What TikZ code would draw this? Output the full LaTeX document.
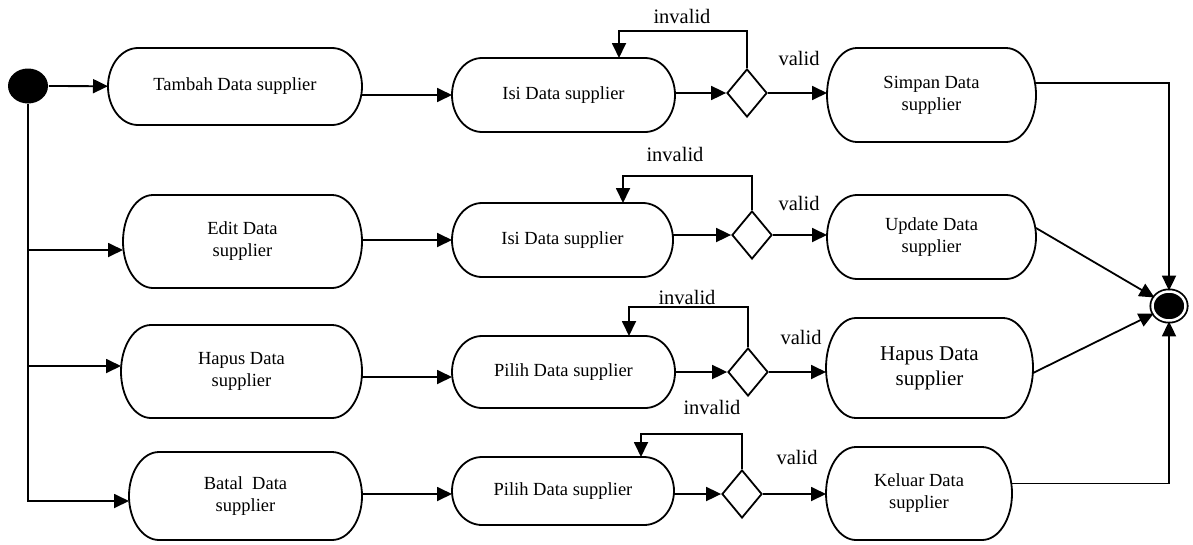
\documentclass[tikz,border=0pt]{standalone}
\usepackage{fontspec}
\setmainfont{Liberation Serif}
\usepackage{tikz}
\usetikzlibrary{calc,shapes.geometric,arrows.meta}

\begin{document}
\begin{tikzpicture}[x=1pt, y=-1pt, line width=1.8pt,
        act/.style={rectangle, align=center, inner sep=0pt, outer sep=0pt,
            font=\fontsize{18.5}{22}\selectfont},
        decision/.style={diamond, draw, minimum width=40pt,
            minimum height=48pt, inner sep=0pt},
        startnode/.style={ellipse, fill=black, minimum width=40pt,
            minimum height=35pt, inner sep=0pt},
        endnode/.style={ellipse, draw, fill=black, double=white,
            double distance=2.5pt, minimum width=33pt, minimum height=29pt,
            inner sep=0pt},
        lbl/.style={inner sep=0pt, font=\fontsize{20.5}{24}\selectfont},
        >={Triangle[length=15pt,width=14pt]}]

        \useasboundingbox (0,0) rectangle (1193,544);

        \node[startnode] (start) at (28,86) {};

        \node[act, minimum width=254pt, minimum height=77pt] (tambah) at (235,86.5) {Tambah Data supplier};
        \node[act, minimum width=239pt, minimum height=93pt] (edit) at (242.5,241.5) {Edit Data\\supplier};
        \node[act, minimum width=241pt, minimum height=93pt] (hapus) at (241.5,371.5) {Hapus Data\\supplier};
        \node[act, minimum width=233pt, minimum height=88pt] (batal) at (245.5,496) {Batal\ \ Data\\supplier};

        \node[act, minimum width=223pt, minimum height=74pt] (isiA) at (563.5,95) {Isi Data supplier};
        \node[act, minimum width=221pt, minimum height=74pt] (isiB) at (562.5,240) {Isi Data supplier};
        \node[act, minimum width=223pt, minimum height=72pt] (pilihA) at (563.5,372) {Pilih Data supplier};
        \node[act, minimum width=222pt, minimum height=68pt] (pilihB) at (563,491) {Pilih Data supplier};

        \node[decision] (decA) at (747,93) {};
        \node[decision] (decB) at (752,235) {};
        \node[decision] (decC) at (748,372) {};
        \node[decision] (decD) at (742,494) {};

        \node[act, minimum width=209pt, minimum height=94pt] (simpan) at (931.5,95) {Simpan Data\\supplier};
        \node[act, minimum width=209pt, minimum height=84pt] (update) at (931.5,237) {Update Data\\supplier};
        \node[act, minimum width=207pt, minimum height=100pt, font=\fontsize{21}{25}\selectfont] (hapusB) at (929.5,368) {Hapus Data\\supplier};
        \node[act, minimum width=186pt, minimum height=93pt] (keluar) at (919,493.5) {Keluar Data\\supplier};

        \foreach \b in {tambah,edit,hapus,batal,isiA,isiB,pilihA,pilihB,simpan,update,hapusB,keluar}
            \draw let \p1 = (\b.north), \p2 = (\b.south), \n1 = {abs(\y1-\y2)/2} in
                ([xshift=30pt]\b.north west) -- ([xshift=-30pt]\b.north east)
                arc[start angle=90, end angle=-90, x radius=30pt, y radius=\n1]
                -- ([xshift=30pt]\b.south west)
                arc[start angle=270, end angle=90, x radius=30pt, y radius=\n1] -- cycle;

        \node[endnode] (endnode) at (1169,306) {};

        \node[lbl] (invA) at (682,16) {invalid};
        \node[lbl] (invB) at (675,154) {invalid};
        \node[lbl] (invC) at (687,297) {invalid};
        \node[lbl] (invD) at (712,407) {invalid};
        \node[lbl] (valA) at (799,58) {valid};
        \node[lbl] (valB) at (799,203) {valid};
        \node[lbl] (valC) at (801,337) {valid};
        \node[lbl] (valD) at (797,457) {valid};

        \coordinate (inA) at ($(isiA.north)+(55.5,0)$);
        \coordinate (inB) at ($(isiB.north)+(60.5,0)$);
        \coordinate (inC) at ($(pilihA.north)+(65.5,0)$);
        \coordinate (inD) at ($(pilihB.north)+(78,0)$);

        \draw[->] (start) -- (tambah);
        \draw[->] (start.south) |- ([yshift=-5pt]batal.west);
        \draw[->] (start.south |- edit.west) ++(0,8.5) -- ([yshift=-8.5pt]edit.west);
        \draw[->] (start.south |- hapus.west) ++(0,-5.5) -- ([yshift=5.5pt]hapus.west);

        \draw[->] (tambah.east |- isiA) -- (isiA);
        \draw[->] (edit.east |- isiB) -- (isiB);
        \draw[->] (hapus.east |- pilihA) ++(0,5) -- ([yshift=-5pt]pilihA.west);
        \draw[->] (batal.east |- decD) -- (decD -| pilihB.west);

        \draw[->] (isiA.east |- decA) -- (decA);
        \draw[->] (isiB.east |- decB) -- (decB);
        \draw[->] (pilihA) -- (decC);
        \draw[->] (pilihB.east |- decD) -- (decD);

        \draw[->] (decA.north) -- ++(0,-37) -| (inA);
        \draw[->] (decB.north) -- ++(0,-34) -| (inB);
        \draw[->] (decC.north) -- ++(0,-40) -| (inC);
        \draw[->] (decD.north) -- ++(0,-35) -| (inD);

        \draw[->] (decA.east) -- (decA.east -| simpan.west);
        \draw[->] (decB.east) -- (decB.east -| update.west);
        \draw[->] (decC.east) -- (decC.east -| hapusB.west);
        \draw[->] (decD.east) -- (decD.east -| keluar.west);

        \draw[->] ([yshift=12pt]simpan.east) -| (endnode.north);
        \draw[->] ([yshift=9pt]update.east) -- (endnode);
        \draw[->] ([yshift=-5pt]hapusB.east) -- (endnode);
        \draw[->] ([yshift=10pt]keluar.east) -| (endnode.south);

    \end{tikzpicture}
\end{document}
